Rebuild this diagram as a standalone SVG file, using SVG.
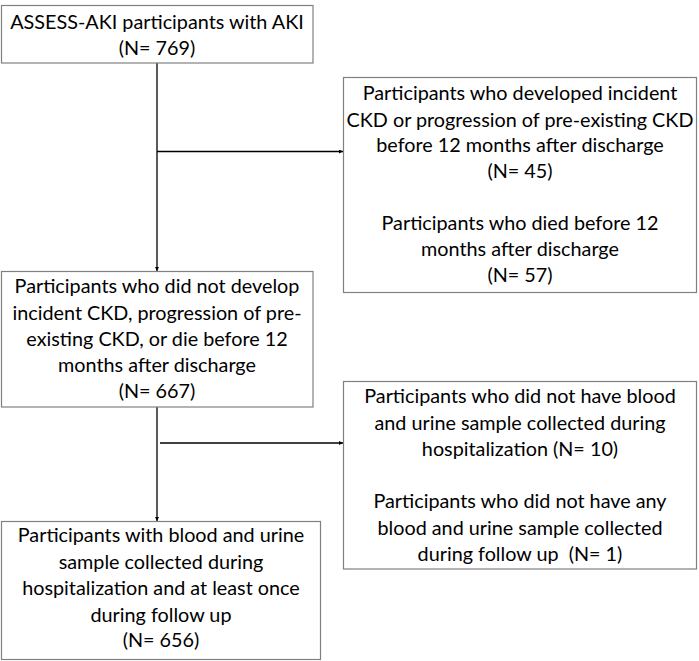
<svg xmlns="http://www.w3.org/2000/svg" width="699" height="661" viewBox="0 0 699 661">
<style>
.box{fill:#fff;stroke:#808080;stroke-width:1.2}
.t{font-family:Lato,"Open Sans","Liberation Sans",sans-serif;font-size:19.8px;fill:#000;text-anchor:middle}
.c{stroke:#000;stroke-width:1.3;fill:none}
</style>
<defs>
<marker id="ah" viewBox="0 0 6 6" refX="6" refY="3" markerWidth="4" markerHeight="4" orient="auto" markerUnits="userSpaceOnUse">
<path d="M0,0 L6,3 L0,6 z" fill="#000"/>
</marker>
</defs>
<rect width="699" height="661" fill="#fff"/>
<g id="connectors">
<line class="c" x1="157" y1="63" x2="157" y2="271" marker-end="url(#ah)"/>
<line class="c" x1="157" y1="151.5" x2="343" y2="151.5" marker-end="url(#ah)"/>
<line class="c" x1="157" y1="407" x2="157" y2="521" marker-end="url(#ah)"/>
<line class="c" x1="160" y1="443" x2="343" y2="443" marker-end="url(#ah)"/>
</g>
<g id="n1">
<rect class="box" x="1.5" y="5.5" width="311.5" height="57.5"/>
<text class="t" x="157" y="29">ASSESS-AKI participants with AKI</text>
<text class="t" x="157" y="55">(N= 769)</text>
</g>
<g id="n2">
<rect class="box" x="343.5" y="77.5" width="353" height="215"/>
<text class="t" x="520" y="100">Participants who developed incident</text>
<text class="t" x="520" y="127">CKD or progression of pre-existing CKD</text>
<text class="t" x="520" y="152">before 12 months after discharge</text>
<text class="t" x="520" y="178">(N= 45)</text>
<text class="t" x="520" y="230">Participants who died before 12</text>
<text class="t" x="520" y="256">months after discharge</text>
<text class="t" x="520" y="282">(N= 57)</text>
</g>
<g id="n3">
<rect class="box" x="1.5" y="271.5" width="311.5" height="135.5"/>
<text class="t" x="157" y="293">Participants who did not develop</text>
<text class="t" x="157" y="320">incident CKD, progression of pre-</text>
<text class="t" x="157" y="346">existing CKD, or die before 12</text>
<text class="t" x="157" y="372">months after discharge</text>
<text class="t" x="157" y="398">(N= 667)</text>
</g>
<g id="n4">
<rect class="box" x="343.5" y="381.5" width="353" height="187.5"/>
<text class="t" x="520" y="403">Participants who did not have blood</text>
<text class="t" x="520" y="430">and urine sample collected during</text>
<text class="t" x="520" y="456">hospitalization (N= 10)</text>
<text class="t" x="520" y="508">Participants who did not have any</text>
<text class="t" x="520" y="535">blood and urine sample collected</text>
<text class="t" x="520" y="561" xml:space="preserve">during follow up  (N= 1)</text>
</g>
<g id="n5">
<rect class="box" x="1.5" y="521.5" width="319" height="138"/>
<text class="t" x="161" y="542">Participants with blood and urine</text>
<text class="t" x="161" y="569">sample collected during</text>
<text class="t" x="161" y="595">hospitalization and at least once</text>
<text class="t" x="161" y="622">during follow up</text>
<text class="t" x="161" y="647">(N= 656)</text>
</g>
</svg>
